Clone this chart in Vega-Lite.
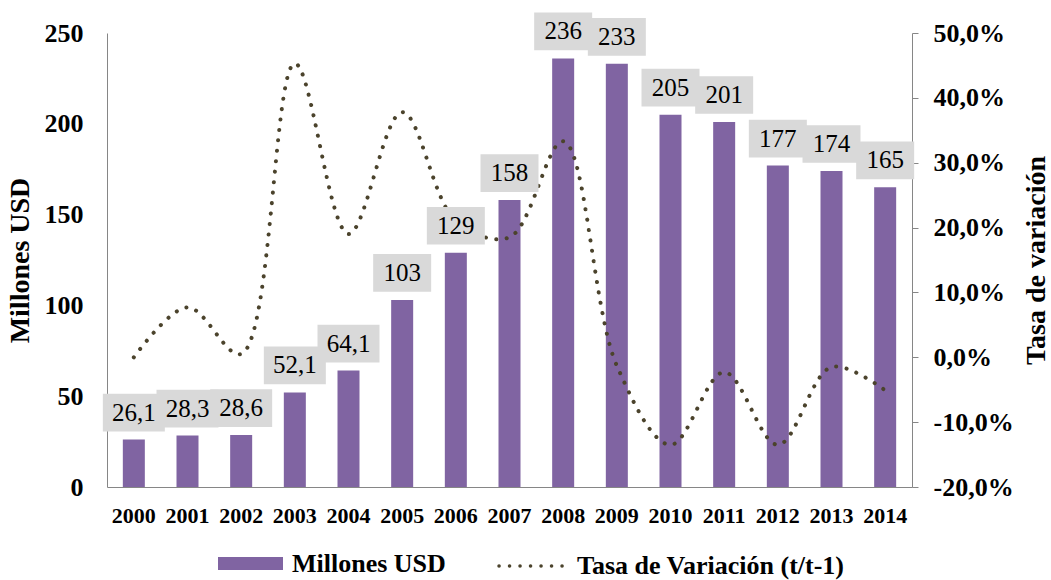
{
  "$schema": "https://vega.github.io/schema/vega-lite/v6.json",
  "width": 805,
  "height": 454,
  "autosize": {"type": "none"},
  "padding": {"left": 107, "top": 33, "right": 139, "bottom": 93},
  "background": "white",
  "config": {
    "locale": {"number": {"decimal": ",", "thousands": ".", "grouping": [3], "currency": ["", ""], "minus": "-", "percent": "%"}},
    "font": "Liberation Serif",
    "view": {"stroke": null},
    "axis": {"grid": false, "domainColor": "#868686", "tickColor": "#868686", "labelColor": "#000000", "titleColor": "#000000", "labelFont": "Liberation Serif", "titleFont": "Liberation Serif", "labelFontWeight": "bold", "titleFontWeight": "bold"}
  },
  "data": {"values": [
    {"year": "2000", "usd": 26.1, "rate": 0.0},
    {"year": "2001", "usd": 28.3, "rate": 0.077},
    {"year": "2002", "usd": 28.6, "rate": 0.005},
    {"year": "2003", "usd": 52.1, "rate": 0.453},
    {"year": "2004", "usd": 64.1, "rate": 0.19},
    {"year": "2005", "usd": 103, "rate": 0.378},
    {"year": "2006", "usd": 129, "rate": 0.21},
    {"year": "2007", "usd": 158, "rate": 0.185},
    {"year": "2008", "usd": 236, "rate": 0.333},
    {"year": "2009", "usd": 233, "rate": -0.013},
    {"year": "2010", "usd": 205, "rate": -0.135},
    {"year": "2011", "usd": 201, "rate": -0.023},
    {"year": "2012", "usd": 177, "rate": -0.135},
    {"year": "2013", "usd": 174, "rate": -0.015},
    {"year": "2014", "usd": 165, "rate": -0.051}
  ]},
  "encoding": {
    "x": {"field": "year", "type": "ordinal", "scale": {"paddingInner": 0.59, "paddingOuter": 0.295},
      "axis": {"title": null, "labelAngle": 0, "ticks": false, "labelFontSize": 22, "labelPadding": 18}}
  },
  "layer": [
    {
      "mark": {"type": "bar", "color": "#8064A2"},
      "encoding": {
        "y": {"field": "usd", "type": "quantitative", "scale": {"domain": [0, 250]},
          "axis": {"orient": "left", "title": "Millones USD", "values": [0, 50, 100, 150, 200, 250], "ticks": false, "labelPadding": 24, "labelFontSize": 26, "titleFontSize": 28, "titlePadding": 10}},
        "color": {"datum": "Millones USD", "scale": {"range": ["#8064A2"]},
          "legend": {"orient": "none", "legendX": 111, "legendY": 498, "title": null, "symbolType": "M-1,-0.2H1V0.2H-1Z", "symbolSize": 4225, "symbolStrokeWidth": 0, "symbolOpacity": 1, "labelFont": "Liberation Serif", "labelFontSize": 26, "labelFontWeight": "bold", "labelColor": "#000000", "labelOffset": 9, "labelLimit": 400}}
      }
    },
    {
      "mark": {"type": "line", "interpolate": "catmull-rom", "strokeWidth": 4, "strokeCap": "round", "color": "#4B432C"},
      "encoding": {
        "y": {"field": "rate", "type": "quantitative", "scale": {"domain": [-0.2, 0.5]},
          "axis": {"orient": "right", "title": "Tasa de variación", "format": ".1%", "values": [-0.2, -0.1, 0, 0.1, 0.2, 0.3, 0.4, 0.5], "tickSize": 6, "labelPadding": 15, "labelFontSize": 26, "titleFontSize": 28, "titleAngle": 270, "titlePadding": 37}},
        "strokeDash": {"datum": "Tasa de Variación (t/t-1)", "scale": {"range": [[0.1, 10.4]]},
          "legend": {"orient": "none", "legendX": 390, "legendY": 498, "title": null, "symbolType": "stroke", "symbolSize": 4356, "symbolStrokeColor": "#4B432C", "symbolStrokeWidth": 3.5, "labelFont": "Liberation Serif", "labelFontSize": 26, "labelFontWeight": "bold", "labelColor": "#000000", "labelOffset": 10, "labelLimit": 400,
            "encode": {"symbols": {"update": {"strokeCap": {"value": "round"}}}}}}
      }
    },
    {
      "mark": {"type": "point", "filled": true, "fill": "#D9D9D9", "opacity": 1, "strokeWidth": 0, "yOffset": -27},
      "encoding": {
        "y": {"field": "usd", "type": "quantitative", "scale": {"domain": [0, 250]}, "axis": null},
        "shape": {"condition": {"test": "datum.usd < 100", "value": "M-1,-0.61H1V0.61H-1Z"}, "value": "M-1,-0.65H1V0.65H-1Z"},
        "size": {"condition": {"test": "datum.usd < 100", "value": 3844}, "value": 3364}
      }
    },
    {
      "mark": {"type": "text", "font": "Liberation Serif", "fontSize": 25, "fontWeight": "normal", "color": "#000000", "baseline": "middle", "yOffset": -27},
      "encoding": {
        "y": {"field": "usd", "type": "quantitative", "scale": {"domain": [0, 250]}, "axis": null},
        "text": {"field": "usd", "type": "quantitative", "format": ".3~r"}
      }
    }
  ],
  "resolve": {"scale": {"y": "independent"}}
}
